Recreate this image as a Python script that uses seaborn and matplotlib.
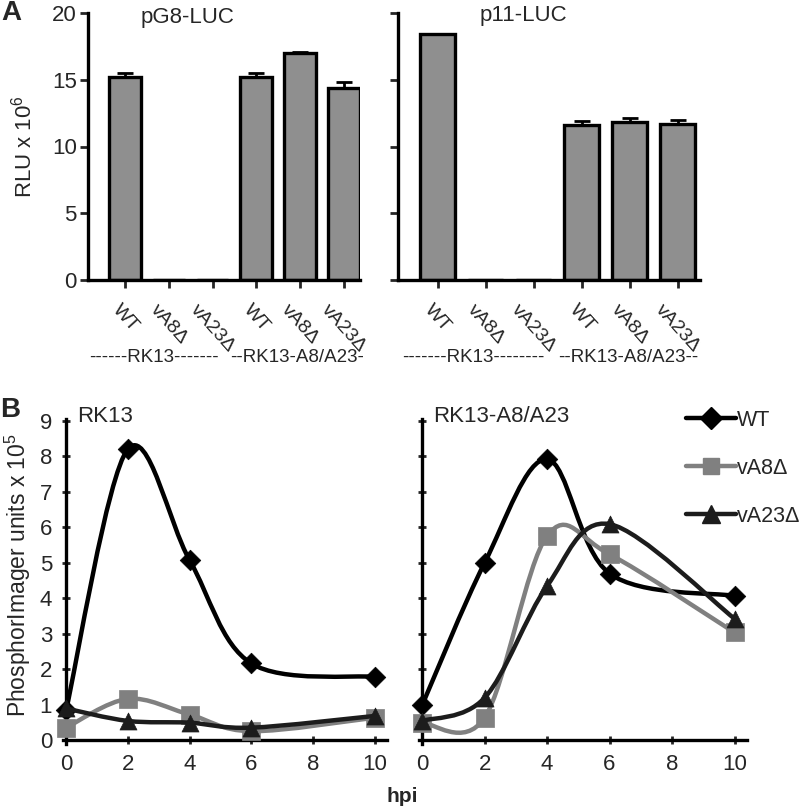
import numpy as np
import pandas as pd
import matplotlib
matplotlib.use("Agg")
import matplotlib.pyplot as plt
import seaborn as sns
from matplotlib.path import Path
from matplotlib.patches import PathPatch
from matplotlib.lines import Line2D

# ---------------- data ----------------
bar_labels = ["WT", "vA8Δ", "vA23Δ", "WT", "vA8Δ", "vA23Δ"]
bar_groups = ["RK13", "RK13", "RK13", "RK13-A8/A23", "RK13-A8/A23", "RK13-A8/A23"]
pg8_values = [15.2, 0.0, 0.0, 15.2, 17.0, 14.4]
pg8_errors = [0.3, 0.0, 0.0, 0.3, 0.05, 0.4]
p11_values = [18.4, 0.0, 0.0, 11.6, 11.85, 11.65]
p11_errors = [0.05, 0.0, 0.0, 0.3, 0.3, 0.35]
group_text_left = ["------RK13-------", "--RK13-A8/A23-"]
group_text_right = ["-------RK13--------", "--RK13-A8/A23--"]

hpi = [0, 2, 4, 6, 10]
rk13_wt = [0.85, 8.2, 5.08, 2.17, 1.79]
rk13_va8 = [0.36, 1.17, 0.73, 0.26, 0.64]
rk13_va23 = [0.9, 0.55, 0.5, 0.36, 0.69]
a8a23_wt = [0.99, 5.0, 7.92, 4.7, 4.07]
a8a23_va8 = [0.5, 0.64, 5.76, 5.24, 3.04]
a8a23_va23 = [0.55, 1.2, 4.35, 6.09, 3.43]
series_names = ["WT", "vA8Δ", "vA23Δ"]

# ---------------- style ----------------
sns.set_style("white")
plt.rcParams["font.family"] = ["Liberation Sans", "DejaVu Sans"]
plt.rcParams["mathtext.fontset"] = "custom"
plt.rcParams["mathtext.rm"] = "Liberation Sans"
plt.rcParams["mathtext.it"] = "Liberation Sans:italic"

fig = plt.figure(figsize=(8.0, 8.1), dpi=100)
W, H = 800.0, 810.0

def fax(x0, y_top, x1, y_bot):
    return fig.add_axes([x0 / W, 1 - y_bot / H, (x1 - x0) / W, (y_bot - y_top) / H])

bar_color = "#8f8f8f"
lw_axis = 2.4

def bar_panel(ax, values, errors, xlim, show_labels):
    keys = [f"{g}|{l}|{i}" for i, (g, l) in enumerate(zip(bar_groups, bar_labels))]
    df = pd.DataFrame({"key": keys, "val": values})
    sns.barplot(data=df, x="key", y="val", order=keys, color=bar_color,
                width=0.73, edgecolor="black", linewidth=2.4, saturation=1, ax=ax)
    xs = np.arange(len(values))
    errs = np.array(errors)
    mask = errs > 0
    ax.errorbar(xs[mask], np.array(values)[mask],
                yerr=[np.zeros(mask.sum()), errs[mask]], fmt="none",
                ecolor="black", elinewidth=2, capsize=6, capthick=2, zorder=5)
    ax.set_xlim(*xlim)
    ax.set_ylim(0, 20)
    ax.set_yticks([0, 5, 10, 15, 20])
    ax.set_xticks(xs)
    ax.set_xticklabels(bar_labels, rotation=-48, ha="center", va="top", fontsize=14)
    ax.set_xlabel("")
    ax.set_ylabel("")
    for s in ["top", "right"]:
        ax.spines[s].set_visible(False)
    for s in ["left", "bottom"]:
        ax.spines[s].set_linewidth(lw_axis)
        ax.spines[s].set_color("black")
    ax.tick_params(axis="x", direction="out", length=6, width=2, pad=9, bottom=True)
    ax.tick_params(axis="y", direction="out", length=6, width=2, pad=2,
                   labelsize=16, left=True, labelleft=show_labels)

axA1 = fax(88, 13, 360, 280)
bar_panel(axA1, pg8_values, pg8_errors, (-0.845, 5.37), True)
axA1.set_ylabel(r"RLU x 10$^{\mathrm{6}}$", fontsize=16, labelpad=11)
fig.text(187 / W, 1 - 17 / H, "pG8-LUC", fontsize=16, ha="center", va="center")

axA2 = fax(398, 13, 700, 280)
bar_panel(axA2, p11_values, p11_errors, (-0.83, 5.46), False)
fig.text(523 / W, 1 - 16 / H, "p11-LUC", fontsize=16, ha="center", va="center")

for txt, xc in zip(group_text_left + group_text_right, [154, 297, 473, 628]):
    fig.text(xc / W, 1 - 358 / H, txt, fontsize=13.5, ha="center", va="center")

fig.text(11 / W, 1 - 13 / H, "A", fontsize=20, fontweight="bold", ha="center", va="center")
fig.text(10 / W, 1 - 410 / H, "B", fontsize=20, fontweight="bold", ha="center", va="center")

# ---------------- panel B ----------------
colors = ["#000000", "#808080", "#1c1c1c"]
markers = ["D", "s", "^"]
msize = [110, 150, 150]

def smooth_path(xs, ys):
    pts = list(zip(xs, ys))
    n = len(pts)
    verts = [pts[0]]
    codes = [Path.MOVETO]
    for i in range(n - 1):
        p0 = pts[i - 1] if i > 0 else pts[i]
        p1 = pts[i]
        p2 = pts[i + 1]
        p3 = pts[i + 2] if i + 2 < n else pts[i + 1]
        c1 = (p1[0] + (p2[0] - p0[0]) / 6.0, p1[1] + (p2[1] - p0[1]) / 6.0)
        c2 = (p2[0] - (p3[0] - p1[0]) / 6.0, p2[1] - (p3[1] - p1[1]) / 6.0)
        verts += [c1, c2, p2]
        codes += [Path.CURVE4] * 3
    return Path(verts, codes)

def line_panel(ax, series, show_labels, title, title_x):
    for k, ys in enumerate(series):
        patch = PathPatch(smooth_path(hpi, ys), fill=False, edgecolor=colors[k],
                          lw=3.2, capstyle="round", joinstyle="round",
                          clip_on=False, zorder=3 + k)
        ax.add_patch(patch)
        sns.scatterplot(x=hpi, y=ys, marker=markers[k], color=colors[k],
                        edgecolor=colors[k], s=msize[k], linewidth=0.5,
                        ax=ax, clip_on=False, zorder=3.5 + k, legend=False)
    ax.set_xlim(-0.1, 10.4)
    ax.set_ylim(-0.1, 9.05)
    ax.spines["left"].set_position(("data", 0))
    ax.spines["bottom"].set_position(("data", 0))
    for s in ["top", "right"]:
        ax.spines[s].set_visible(False)
    for s in ["left", "bottom"]:
        ax.spines[s].set_linewidth(lw_axis)
        ax.spines[s].set_color("black")
    ax.set_xticks([0, 2, 4, 6, 8, 10])
    ax.set_yticks(range(0, 10))
    ax.tick_params(axis="x", direction="inout", length=6, width=2, pad=7,
                   labelsize=16, bottom=True)
    ax.tick_params(axis="y", direction="inout", length=6, width=2, pad=7,
                   labelsize=16, left=True, labelleft=show_labels)
    ax.set_xlabel("")
    ax.set_ylabel("")
    fig.text(title_x / W, 1 - 416 / H, title, fontsize=16, ha="left", va="center")

axB1 = fax(63, 419, 387, 744)
line_panel(axB1, [rk13_wt, rk13_va8, rk13_va23], True, "RK13", 77)
fig.text(18 / W, 1 - 575 / H, r"PhosphorImager units x 10$^{\mathrm{5}}$",
         fontsize=16.5, rotation=90, ha="center", va="center")

axB2 = fax(419, 419, 747, 744)
line_panel(axB2, [a8a23_wt, a8a23_va8, a8a23_va23], False, "RK13-A8/A23", 433)

fig.text(402 / W, 1 - 797 / H, "hpi", fontsize=15, fontweight="bold",
         ha="center", va="center")

handles = [Line2D([0], [0], color=colors[k], lw=3.2, marker=markers[k],
                  markersize=[11, 12, 13][k], markerfacecolor=colors[k],
                  markeredgecolor=colors[k]) for k in range(3)]
fig.legend(handles, series_names, loc="upper left",
           bbox_to_anchor=(686 / W, 1 - 410 / H), frameon=False, fontsize=15.5,
           handlelength=2.3, handletextpad=0.05, labelspacing=1.25,
           borderaxespad=0, borderpad=0)

fig.savefig("out.png", dpi=100)
